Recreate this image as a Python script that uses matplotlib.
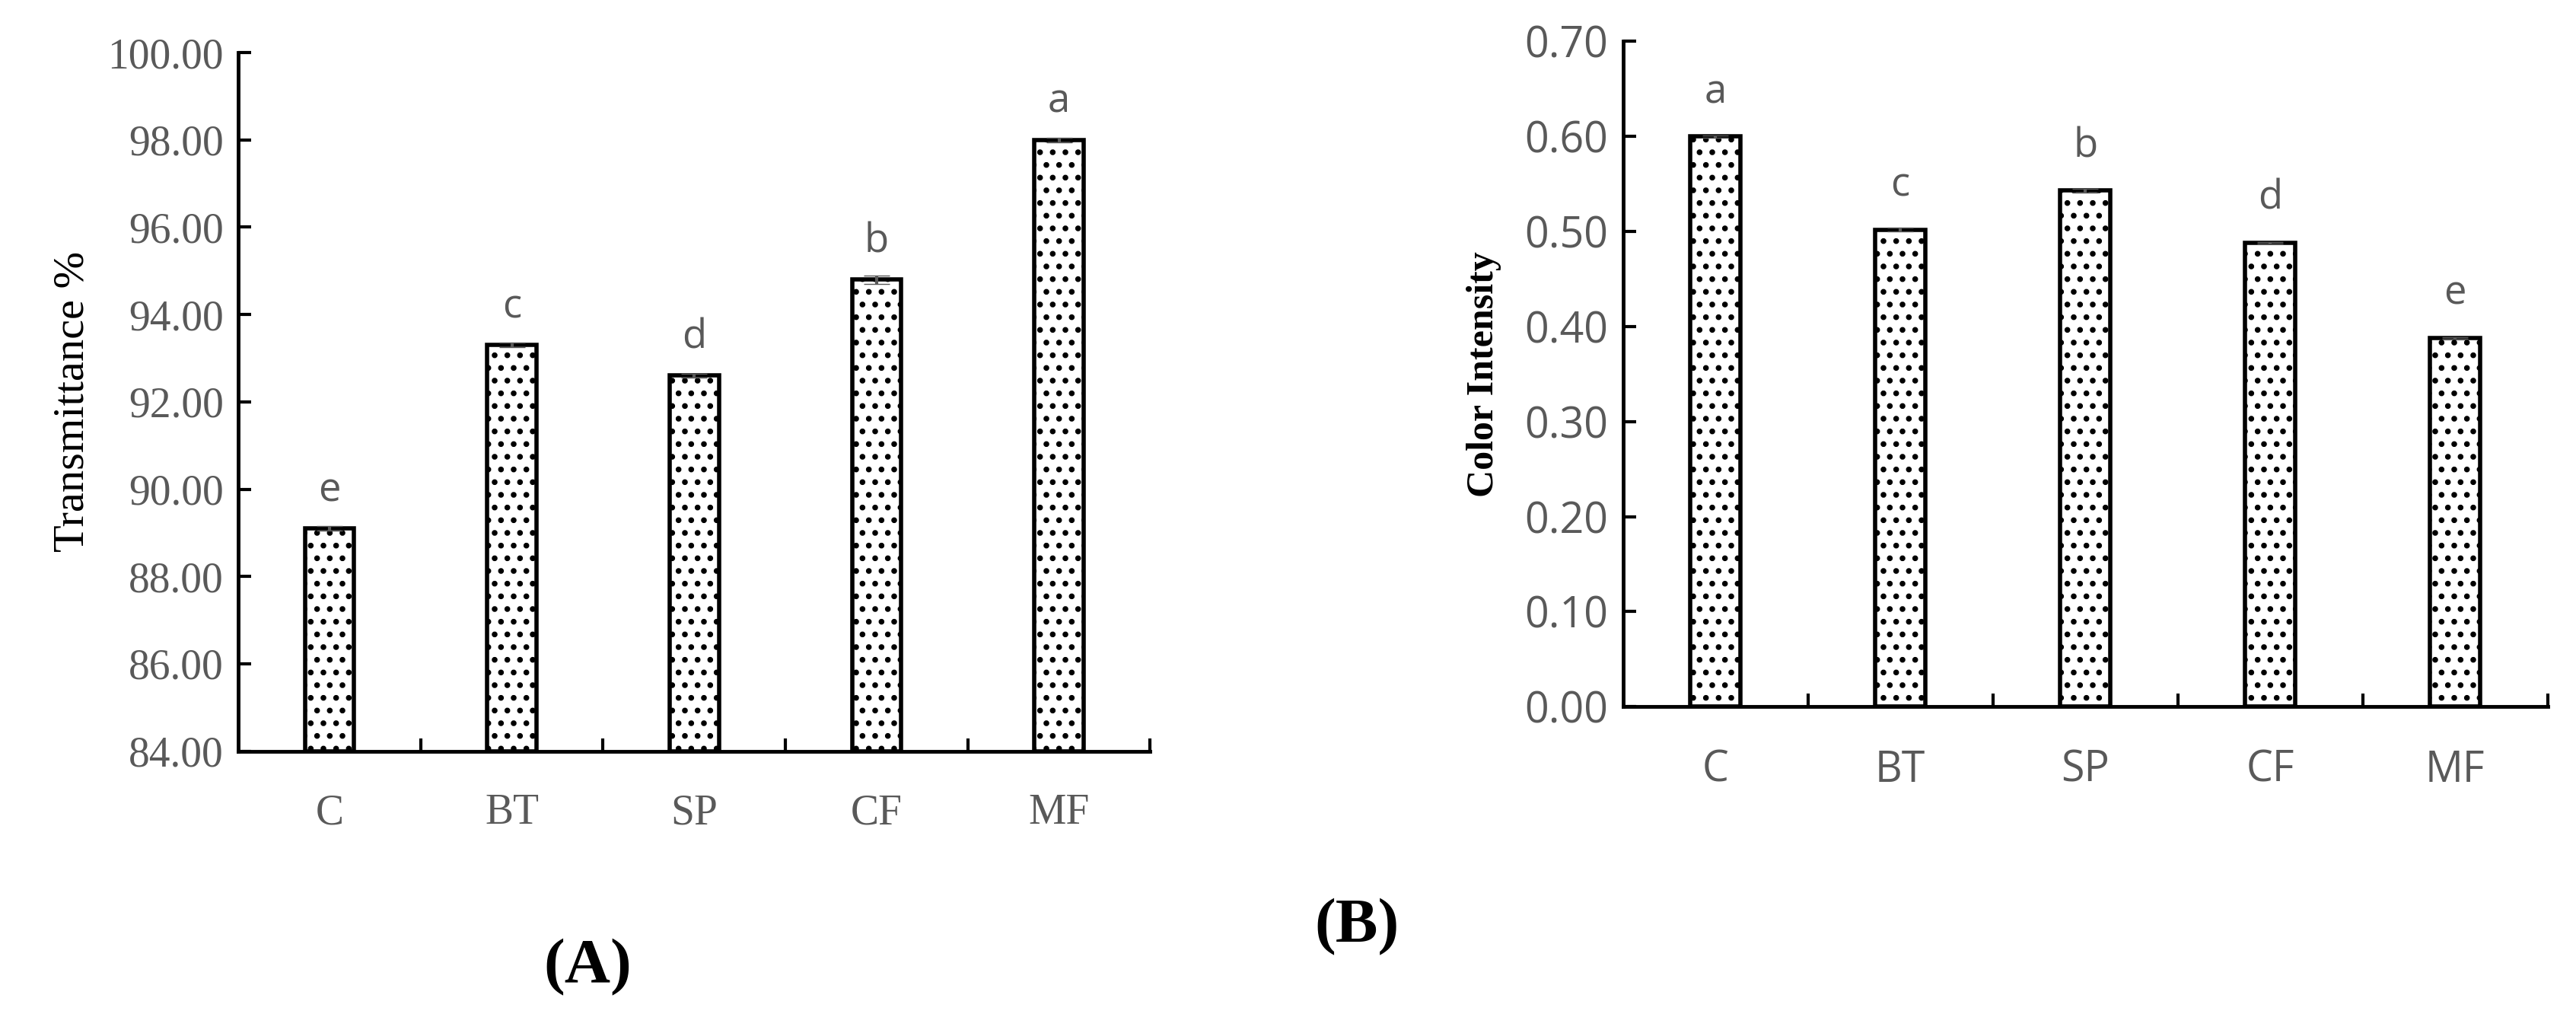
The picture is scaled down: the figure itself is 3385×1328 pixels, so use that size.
import matplotlib
matplotlib.use("Agg")
import matplotlib.pyplot as plt
import numpy as np

cats = ["C", "BT", "SP", "CF", "MF"]
trans = [89.1, 93.3, 92.6, 94.8, 98.0]
trans_err = [0.05, 0.05, 0.05, 0.1, 0.05]
trans_let = ["e", "c", "d", "b", "a"]
ci = [0.600, 0.502, 0.543, 0.488, 0.388]
ci_err = [0.001, 0.002, 0.002, 0.001, 0.001]
ci_let = ["a", "c", "b", "d", "e"]

plt.rcParams['hatch.linewidth'] = 3.0
fig = plt.figure(figsize=(33.85, 13.28), dpi=100)
gray = "#595959"

def panel(ax, vals, err, lets, ymin, ymax, step, tickfont, off):
    x = range(len(cats))
    ax.bar(x, [v - ymin for v in vals], bottom=ymin, width=0.27, color="white",
           edgecolor="black", linewidth=4, hatch=".", zorder=2)
    ax.errorbar(x, vals, yerr=err, fmt="none", ecolor=gray, capsize=12, elinewidth=3, zorder=3)
    for i, (v, l) in enumerate(zip(vals, lets)):
        ax.text(i, v + off, l, ha="center", va="bottom", fontsize=38, color=gray, family="Open Sans")
    ax.set_ylim(ymin, ymax)
    ax.set_xlim(-0.5, len(cats) - 0.5)
    yt = np.arange(ymin, ymax + step / 2, step)
    ax.set_yticks(yt)
    ax.set_yticklabels(["%.2f" % t for t in yt], fontsize=40, color=gray, family=tickfont)
    ax.set_xticks(list(x))
    ax.set_xticklabels(cats, fontsize=40, color=gray, family=tickfont)
    ax.set_xticks([i + 0.5 for i in range(len(cats))], minor=True)
    ax.tick_params(axis="x", which="major", length=0, pad=40)
    ax.tick_params(axis="x", which="minor", length=12, width=3, direction="in")
    ax.tick_params(axis="y", length=12, width=3, direction="in", pad=14)
    for s in ["top", "right"]:
        ax.spines[s].set_visible(False)
    for s in ["left", "bottom"]:
        ax.spines[s].set_linewidth(3.5)

axA = fig.add_axes([0.0925, 0.257, 0.354, 0.691])
panel(axA, trans, trans_err, trans_let, 84, 100, 2, "Liberation Serif", 0.4)
axA.set_ylabel("Transmittance %", fontsize=42, family="Liberation Serif", labelpad=14)

axB = fig.add_axes([0.63, 0.301, 0.359, 0.658])
panel(axB, ci, ci_err, ci_let, 0.0, 0.70, 0.10, "Open Sans", 0.025)
axB.set_ylabel("Color Intensity", fontsize=36, family="Liberation Serif", fontweight="bold", labelpad=22)

fig.text(0.228, 0.015, "(A)", fontsize=60, fontweight="bold", family="Liberation Serif", ha="center", va="bottom")
fig.text(0.5266, 0.055, "(B)", fontsize=60, fontweight="bold", family="Liberation Serif", ha="center", va="bottom")

fig.savefig("out.png", dpi=100, facecolor="white")
